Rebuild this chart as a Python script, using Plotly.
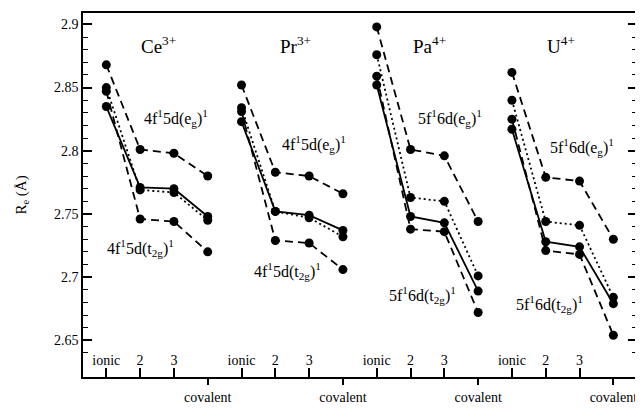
import plotly.graph_objects as go

# x positions within each group: ionic, 2, 3, covalent
groups = ["Ce", "Pr", "Pa", "U"]
group_titles = ["Ce<sup>3+</sup>", "Pr<sup>3+</sup>", "Pa<sup>4+</sup>", "U<sup>4+</sup>"]
x_ce = [1, 2, 3, 4]
x_pr = [5, 6, 7, 8]
x_pa = [9, 10, 11, 12]
x_u = [13, 14, 15, 16]

# R_e values (Angstrom)
ce_eg = [2.868, 2.801, 2.798, 2.780]
ce_dot = [2.850, 2.769, 2.767, 2.745]
ce_t2g = [2.847, 2.746, 2.744, 2.720]
ce_solid = [2.835, 2.771, 2.770, 2.748]

pr_eg = [2.852, 2.783, 2.780, 2.766]
pr_dot = [2.834, 2.752, 2.747, 2.732]
pr_t2g = [2.831, 2.729, 2.727, 2.706]
pr_solid = [2.823, 2.752, 2.749, 2.737]

pa_eg = [2.898, 2.801, 2.796, 2.744]
pa_dot = [2.876, 2.763, 2.760, 2.701]
pa_t2g = [2.859, 2.738, 2.736, 2.672]
pa_solid = [2.852, 2.748, 2.743, 2.689]

u_eg = [2.862, 2.779, 2.776, 2.730]
u_dot = [2.840, 2.744, 2.741, 2.684]
u_t2g = [2.825, 2.721, 2.718, 2.654]
u_solid = [2.817, 2.728, 2.724, 2.679]

tick_vals_in = [1, 2, 3, 5, 6, 7, 9, 10, 11, 13, 14, 15]
tick_text_in = ["ionic", "2", "3"] * 4
tick_vals_out = [4, 8, 12, 16]
tick_text_out = ["covalent"] * 4

FONT = "Liberation Serif, serif"

xs = [x_ce, x_pr, x_pa, x_u]
series = {
    "eg": ([ce_eg, pr_eg, pa_eg, u_eg], "8px,5px"),
    "dot": ([ce_dot, pr_dot, pa_dot, u_dot], "2px,3px"),
    "t2g": ([ce_t2g, pr_t2g, pa_t2g, u_t2g], "8px,5px"),
    "solid": ([ce_solid, pr_solid, pa_solid, u_solid], "solid"),
}

fig = go.Figure()
for name, (vals, dash) in series.items():
    for gx, gy in zip(xs, vals):
        fig.add_trace(go.Scatter(
            x=gx, y=gy, mode="lines+markers",
            line=dict(color="black", width=1.8, dash=dash),
            marker=dict(color="black", size=9),
            showlegend=False, xaxis="x", yaxis="y",
        ))

# invisible trace to activate the second x axis (covalent ticks)
fig.add_trace(go.Scatter(x=[tick_vals_out[0]], y=[ce_solid[3]], mode="markers",
                         marker=dict(opacity=0), showlegend=False, hoverinfo="skip",
                         xaxis="x2", yaxis="y"))

# titles
title_x = [2.55, 6.6, 10.55, 14.45]
for tx, tt in zip(title_x, group_titles):
    fig.add_annotation(x=tx, y=2.884, text=tt, showarrow=False,
                       font=dict(family=FONT, size=19, color="black"))

labels = [
    (2.07, 2.826, "4f<sup>1</sup>5d(e<sub>g</sub>)<sup>1</sup>"),
    (0.95, 2.723, "4f<sup>1</sup>5d(t<sub>2g</sub>)<sup>1</sup>"),
    (6.13, 2.805, "4f<sup>1</sup>5d(e<sub>g</sub>)<sup>1</sup>"),
    (5.30, 2.705, "4f<sup>1</sup>5d(t<sub>2g</sub>)<sup>1</sup>"),
    (10.16, 2.826, "5f<sup>1</sup>6d(e<sub>g</sub>)<sup>1</sup>"),
    (9.30, 2.686, "5f<sup>1</sup>6d(t<sub>2g</sub>)<sup>1</sup>"),
    (14.07, 2.803, "5f<sup>1</sup>6d(e<sub>g</sub>)<sup>1</sup>"),
    (13.06, 2.679, "5f<sup>1</sup>6d(t<sub>2g</sub>)<sup>1</sup>"),
]
for lx, ly, lt in labels:
    fig.add_annotation(x=lx, y=ly, text=lt, showarrow=False, xanchor="left",
                       font=dict(family=FONT, size=16, color="black"))

# the page has an 8px body margin, so the figure is sized to fit inside it
fig.update_layout(
    width=635, height=402,
    margin=dict(l=75, r=6, t=5, b=33),
    paper_bgcolor="white", plot_bgcolor="white",
    font=dict(family=FONT, size=14, color="black"),
    xaxis=dict(
        range=[0.31, 16.7], tickvals=tick_vals_in, ticktext=tick_text_in,
        ticks="inside", ticklen=9, tickwidth=1.5, tickcolor="black",
        ticklabelposition="inside", showgrid=False, zeroline=False,
        showline=True, linecolor="black", linewidth=1.5, mirror=True,
        tickfont=dict(family=FONT, size=14, color="black"), automargin=False,
    ),
    xaxis2=dict(
        overlaying="x", matches="x", side="bottom", range=[0.31, 16.7],
        tickvals=tick_vals_out, ticktext=tick_text_out,
        ticks="outside", ticklen=7, tickwidth=1.5, tickcolor="black",
        showgrid=False, zeroline=False, showline=False,
        tickfont=dict(family=FONT, size=14, color="black"), automargin=False,
    ),
    yaxis=dict(
        range=[2.621, 2.909], tickvals=[2.65, 2.7, 2.75, 2.8, 2.85, 2.9],
        ticktext=["2.65", "2.7", "2.75", "2.8", "2.85", "2.9"],
        ticks="inside", ticklen=9, tickwidth=1.5, tickcolor="black",
        minor=dict(dtick=0.01, ticks="inside", ticklen=5, tickwidth=1.2, tickcolor="black", showgrid=False),
        showgrid=False, zeroline=False,
        showline=True, linecolor="black", linewidth=1.5, mirror="ticks",
        title=dict(text="R<sub>e</sub> (Å)", font=dict(family=FONT, size=15, color="black"), standoff=24),
        tickfont=dict(family=FONT, size=14, color="black"), automargin=False,
    ),
)

fig.write_html("out.html")
